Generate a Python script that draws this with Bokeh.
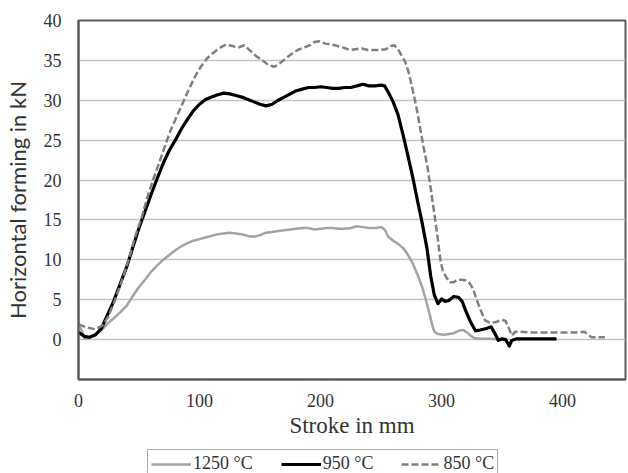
from bokeh.plotting import figure
from bokeh.layouts import column
from bokeh.models import Legend, LegendItem, FixedTicker
from bokeh.embed import file_html
from bokeh.resources import INLINE

# ---------------- data ----------------
x_1250 = [0, 3, 5, 9, 14, 19, 24, 30, 35, 40, 45, 50, 55, 60, 65, 70, 75, 80, 85, 90,
          95, 100, 105, 110, 115, 120, 125, 130, 135, 140, 145, 150, 155, 160, 165, 170,
          175, 180, 185, 190, 195, 200, 205, 210, 215, 220, 225, 230, 235, 240, 245, 250,
          253, 256, 260, 264, 268, 272, 276, 280, 284, 287, 290, 292, 294, 297, 302, 306,
          310, 314, 318, 321, 324, 327, 332, 340, 350]
y_1250 = [2.0, 1.0, 0.1, 0.2, 0.6, 1.2, 2.0, 2.8, 3.5, 4.3, 5.5, 6.6, 7.5, 8.5, 9.3, 10.0,
          10.6, 11.2, 11.7, 12.1, 12.4, 12.6, 12.8, 13.0, 13.2, 13.3, 13.4, 13.3, 13.2, 13.0,
          12.9, 13.1, 13.4, 13.5, 13.6, 13.7, 13.8, 13.9, 14.0, 14.0, 13.8, 13.9, 14.0, 14.0,
          13.9, 13.9, 14.0, 14.2, 14.1, 14.0, 14.0, 14.1, 13.8, 12.9, 12.4, 12.0, 11.5, 10.7,
          9.6, 8.2, 6.6, 5.0, 3.3, 2.0, 1.0, 0.7, 0.6, 0.7, 0.8, 1.1, 1.2, 0.9, 0.5, 0.2,
          0.1, 0.1, 0.0]

x_950 = [0, 5, 9, 14, 19, 23, 29, 35, 40, 45, 50, 56, 60, 65, 70, 75, 80, 85, 90, 95, 100,
         105, 110, 115, 120, 125, 130, 135, 140, 145, 150, 155, 160, 165, 170, 175, 180, 185,
         190, 195, 200, 205, 210, 215, 220, 225, 230, 235, 240, 245, 250, 253, 256, 260, 264,
         268, 272, 276, 280, 284, 288, 291, 294, 297, 300, 303, 306, 310, 314, 317, 320, 324,
         328, 332, 337, 341, 344, 347, 350, 353, 356, 358, 362, 370, 380, 395]
y_950 = [0.9, 0.4, 0.3, 0.6, 1.4, 2.8, 4.8, 7.2, 9.2, 11.6, 14.0, 16.5, 18.2, 20.2, 22.1,
         23.7, 25.0, 26.4, 27.6, 28.7, 29.5, 30.1, 30.4, 30.7, 30.9, 30.8, 30.6, 30.4, 30.1,
         29.8, 29.5, 29.3, 29.5, 30.0, 30.4, 30.8, 31.2, 31.4, 31.6, 31.6, 31.7, 31.6, 31.5,
         31.5, 31.6, 31.6, 31.8, 32.0, 31.8, 31.8, 31.9, 31.8, 31.0, 29.8, 28.2, 25.8, 23.2,
         20.5, 17.5, 14.6, 11.4, 8.0, 5.6, 4.5, 5.1, 4.8, 4.9, 5.4, 5.3, 4.8, 3.6, 2.2, 1.1,
         1.2, 1.4, 1.6, 0.8, -0.1, 0.1, 0.0, -0.8, -0.1, 0.1, 0.1, 0.1, 0.1]

x_850 = [0, 7, 14, 20, 25, 30, 37, 42, 47, 52, 57, 62, 67, 72, 76, 81, 86, 91, 96, 101, 106,
         111, 116, 122, 127, 132, 137, 142, 147, 152, 157, 162, 166, 171, 176, 181, 186, 191,
         195, 199, 204, 209, 214, 219, 224, 229, 234, 239, 244, 249, 254, 258, 261, 264, 267,
         270, 273, 276, 279, 282, 285, 288, 291, 294, 297, 299, 301, 304, 307, 310, 313, 317,
         320, 323, 326, 329, 332, 336, 340, 345, 350, 353, 356, 358, 361, 365, 372, 380, 390,
         400, 410, 418, 421, 424, 430, 435]
y_850 = [1.9, 1.5, 1.3, 1.8, 3.0, 4.9, 7.9, 10.3, 13.0, 15.2, 17.9, 20.2, 22.3, 24.5, 26.2,
         27.9, 29.6, 31.3, 32.9, 34.2, 35.2, 35.9, 36.5, 37.0, 36.8, 36.6, 36.9, 36.2, 35.5,
         35.0, 34.4, 34.2, 34.6, 35.2, 35.8, 36.3, 36.6, 36.9, 37.3, 37.4, 37.1, 37.0, 36.8,
         36.6, 36.3, 36.4, 36.5, 36.3, 36.3, 36.3, 36.4, 36.8, 36.9, 36.4, 35.6, 34.8, 33.4,
         31.4, 29.3, 26.8, 24.2, 22.0, 19.0, 15.8, 12.5, 10.0, 8.6, 7.8, 7.2, 7.2, 7.5, 7.5,
         7.4, 7.1, 6.4, 5.0, 3.8, 2.4, 2.1, 2.2, 2.5, 2.3, 1.3, 0.5, 1.0, 1.0, 0.9, 0.9, 0.9,
         0.9, 0.9, 1.0, 0.6, 0.3, 0.3, 0.3]

series_labels = ["1250 °C", "950 °C", "850 °C"]
x_ticks = [0, 100, 200, 300, 400]
y_ticks = [0, 5, 10, 15, 20, 25, 30, 35, 40]
x_title = "Stroke in mm"
y_title = "Horizontal forming in kN"

series = [(x_1250, y_1250), (x_950, y_950), (x_850, y_850)]
styles = [dict(line_color="#a3a3a3", line_width=2.5),
          dict(line_color="#000000", line_width=3.2),
          dict(line_color="#7f7f7f", line_width=2.5, line_dash="7 3")]

# ---------------- main chart ----------------
p = figure(width=628, height=448, x_range=(0, 452), y_range=(-5, 40),
           output_backend="svg", toolbar_location=None,
           min_border_left=75, min_border_right=3, min_border_top=20, min_border_bottom=69)

p.background_fill_color = "white"
p.border_fill_color = "white"
p.outline_line_color = "#5a5a5a"
p.outline_line_width = 2

p.xgrid.visible = False
p.ygrid.grid_line_color = "#c4c4c4"
p.ygrid.grid_line_width = 1.6

for ax in (p.xaxis[0], p.yaxis[0]):
    ax.major_tick_line_color = None
    ax.minor_tick_line_color = None
    ax.axis_line_color = "#5a5a5a"
    ax.axis_line_width = 2
    ax.major_label_text_font = "Liberation Serif"
    ax.major_label_text_font_size = "18px"
    ax.major_label_text_color = "#333333"
    ax.axis_label_text_font_style = "normal"
    ax.axis_label_text_color = "#333333"
p.xaxis.ticker = FixedTicker(ticks=x_ticks)
p.yaxis.ticker = FixedTicker(ticks=y_ticks)
p.xaxis.major_label_standoff = 8
p.yaxis.major_label_standoff = 11

p.yaxis.axis_label = y_title
p.yaxis.axis_label_text_font = "Lato"
p.yaxis.axis_label_text_font_size = "22px"
p.yaxis.axis_label_standoff = 10

p.xaxis.axis_label = x_title
p.xaxis.axis_label_text_font = "Liberation Serif"
p.xaxis.axis_label_text_font_size = "23px"
p.xaxis.axis_label_standoff = 3

for (xs, ys), s in zip(series, styles):
    p.line(xs, ys, line_join="round", **s)

# ---------------- legend strip (below the chart) ----------------
# the same series are drawn here outside the visible ranges, only to feed the legend samples
lg = figure(width=628, height=25, x_range=(1000, 1001), y_range=(1000, 1001),
            x_axis_type=None, y_axis_type=None, output_backend="svg",
            toolbar_location=None, min_border=0)
lg.outline_line_color = None
lg.xgrid.visible = False
lg.ygrid.visible = False
samples = [lg.line(xs, ys, **s) for (xs, ys), s in zip(series, styles)]

legend = Legend(items=[LegendItem(label=lab, renderers=[r])
                       for lab, r in zip(series_labels, samples)],
                orientation="horizontal", location=(69, -5),
                label_text_font="Liberation Serif", label_text_font_size="18px",
                label_text_color="#333333", label_height=20,
                glyph_width=40, glyph_height=18, label_standoff=2, spacing=28,
                padding=3, margin=0,
                border_line_color="#5a5a5a", border_line_width=1.5,
                background_fill_alpha=0)
lg.add_layout(legend)

layout = column(p, lg, spacing=0)
open("out.html", "w").write(file_html(layout, INLINE))
